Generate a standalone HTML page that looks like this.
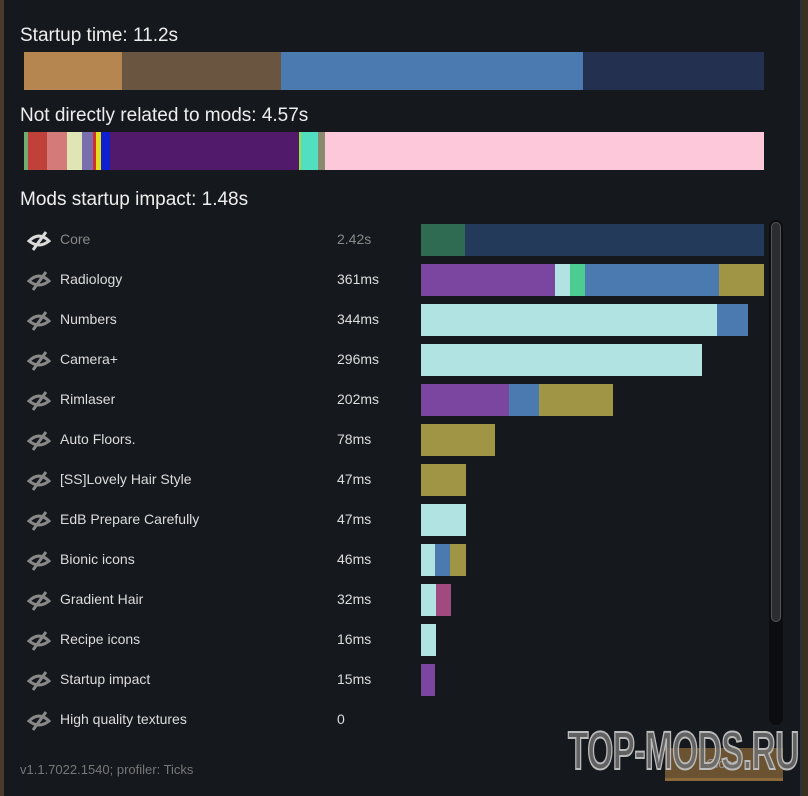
<!DOCTYPE html>
<html><head><meta charset="utf-8"><style>
*{margin:0;padding:0;box-sizing:border-box}
body{width:808px;height:796px;background:#15181d;position:relative;overflow:hidden;font-family:"Liberation Sans",sans-serif;color:#e6e6e6}
.a{position:absolute}
.h{font-size:19px;color:#eee;left:20px}
.s{position:absolute;top:0;height:100%}
.bar{position:absolute;height:38px;left:24px;width:740px}
.row{position:absolute;left:0;width:808px;height:40px}
.nm{position:absolute;left:60px;top:7px;font-size:14px;color:#ddd}
.v{position:absolute;left:337px;top:7px;font-size:14px;color:#ddd}
.rb{position:absolute;left:421px;top:0;height:32px}
.ic{position:absolute;left:27px;top:4px}
</style></head><body>
<div class="a" style="left:0;top:0;width:4px;height:796px;background:#4a3a2c"></div>
<div class="a" style="left:800px;top:0;width:2px;height:796px;background:#2c3038"></div>
<div class="a" style="left:802px;top:0;width:6px;height:796px;background:#3a3020"></div>
<div class="a h" style="top:25px">Startup time: 11.2s</div>
<div class="bar" style="top:52px">
<div class="s" style="left:0;width:98px;background:#b5864f"></div>
<div class="s" style="left:98px;width:159px;background:#6a5540"></div>
<div class="s" style="left:257px;width:302px;background:#4a7aaf"></div>
<div class="s" style="left:559px;width:181px;background:#233050"></div>
</div>
<div class="a h" style="top:105px">Not directly related to mods: 4.57s</div>
<div class="bar" style="top:132px">
<div class="s" style="left:0;width:4px;background:#6fae6f"></div>
<div class="s" style="left:4px;width:19px;background:#c0403a"></div>
<div class="s" style="left:23px;width:20px;background:#d47a78"></div>
<div class="s" style="left:43px;width:15px;background:#dfe5b5"></div>
<div class="s" style="left:58px;width:11px;background:#7a6fae"></div>
<div class="s" style="left:69px;width:3px;background:#d03030"></div>
<div class="s" style="left:72px;width:5px;background:#e0e020"></div>
<div class="s" style="left:77px;width:9px;background:#1020d0"></div>
<div class="s" style="left:86px;width:189px;background:#521a6a"></div>
<div class="s" style="left:275px;width:2px;background:#a0e040"></div>
<div class="s" style="left:277px;width:17px;background:#50e0c0"></div>
<div class="s" style="left:294px;width:7px;background:#8a8a70"></div>
<div class="s" style="left:301px;width:439px;background:#fcc8da"></div>
</div>
<div class="a h" style="top:189px">Mods startup impact: 1.48s</div>

<div class="a" style="left:769px;top:220px;width:14px;height:505px;background:#0c0d10;border-radius:7px"></div>
<div class="a" style="left:771px;top:222px;width:10px;height:400px;background:#2a2c30;border-radius:5px;border:1px solid #555"></div>

<svg width="0" height="0" style="position:absolute"><defs><g id="eye"><path d="M2 13 Q12 3 22 13 Q12 21 2 13Z" fill="none" stroke="#888" stroke-width="3"/><line x1="6" y1="22" x2="19" y2="4" stroke="#888" stroke-width="3"/></g></defs></svg>

<div class="row" style="top:224px"><svg class="ic" width="24" height="24"><use href="#eye" style="filter:brightness(1.6)"/></svg><div class="nm" style="color:#888">Core</div><div class="v" style="color:#888">2.42s</div>
<div class="rb" style="width:44px;background:#2e6b52"></div><div class="rb" style="left:465px;width:299px;background:#233a5a"></div></div>
<div class="row" style="top:264px"><svg class="ic" width="24" height="24"><use href="#eye"/></svg><div class="nm">Radiology</div><div class="v">361ms</div>
<div class="rb" style="width:134px;background:#7a46a0"></div><div class="rb" style="left:555px;width:15px;background:#b2e3e3"></div><div class="rb" style="left:570px;width:15px;background:#4ccc90"></div><div class="rb" style="left:585px;width:134px;background:#4a7aaf"></div><div class="rb" style="left:719px;width:45px;background:#9f9545"></div></div>
<div class="row" style="top:304px"><svg class="ic" width="24" height="24"><use href="#eye"/></svg><div class="nm">Numbers</div><div class="v">344ms</div>
<div class="rb" style="width:296px;background:#b2e3e3"></div><div class="rb" style="left:717px;width:31px;background:#4a7aaf"></div></div>
<div class="row" style="top:344px"><svg class="ic" width="24" height="24"><use href="#eye"/></svg><div class="nm">Camera+</div><div class="v">296ms</div>
<div class="rb" style="width:281px;background:#b2e3e3"></div></div>
<div class="row" style="top:384px"><svg class="ic" width="24" height="24"><use href="#eye"/></svg><div class="nm">Rimlaser</div><div class="v">202ms</div>
<div class="rb" style="width:88px;background:#7a46a0"></div><div class="rb" style="left:509px;width:30px;background:#4a7aaf"></div><div class="rb" style="left:539px;width:74px;background:#9f9545"></div></div>
<div class="row" style="top:424px"><svg class="ic" width="24" height="24"><use href="#eye"/></svg><div class="nm">Auto Floors.</div><div class="v">78ms</div>
<div class="rb" style="width:74px;background:#9f9545"></div></div>
<div class="row" style="top:464px"><svg class="ic" width="24" height="24"><use href="#eye"/></svg><div class="nm">[SS]Lovely Hair Style</div><div class="v">47ms</div>
<div class="rb" style="width:45px;background:#9f9545"></div></div>
<div class="row" style="top:504px"><svg class="ic" width="24" height="24"><use href="#eye"/></svg><div class="nm">EdB Prepare Carefully</div><div class="v">47ms</div>
<div class="rb" style="width:45px;background:#b2e3e3"></div></div>
<div class="row" style="top:544px"><svg class="ic" width="24" height="24"><use href="#eye"/></svg><div class="nm">Bionic icons</div><div class="v">46ms</div>
<div class="rb" style="width:14px;background:#b2e3e3"></div><div class="rb" style="left:435px;width:15px;background:#4a7aaf"></div><div class="rb" style="left:450px;width:16px;background:#9f9545"></div></div>
<div class="row" style="top:584px"><svg class="ic" width="24" height="24"><use href="#eye"/></svg><div class="nm">Gradient Hair</div><div class="v">32ms</div>
<div class="rb" style="width:15px;background:#b2e3e3"></div><div class="rb" style="left:436px;width:15px;background:#a04a80"></div></div>
<div class="row" style="top:624px"><svg class="ic" width="24" height="24"><use href="#eye"/></svg><div class="nm">Recipe icons</div><div class="v">16ms</div>
<div class="rb" style="width:15px;background:#b2e3e3"></div></div>
<div class="row" style="top:664px"><svg class="ic" width="24" height="24"><use href="#eye"/></svg><div class="nm">Startup impact</div><div class="v">15ms</div>
<div class="rb" style="width:14px;background:#7a46a0"></div></div>
<div class="row" style="top:704px"><svg class="ic" width="24" height="24"><use href="#eye"/></svg><div class="nm">High quality textures</div><div class="v">0</div></div>

<div class="a" style="left:20px;top:762px;font-size:13px;color:#777">v1.1.7022.1540; profiler: Ticks</div>
<div class="a" style="left:665px;top:748px;width:118px;height:33px;background:#6b5230;border-bottom:3px solid #8a6a3a"></div>
<div class="a" style="left:706px;top:756px;font-size:13px;color:#999">Close</div>
<div class="a" style="left:568px;top:720px;font-size:54px;font-weight:bold;color:rgba(110,110,110,0.85);-webkit-text-stroke:2px #bbb;transform:scaleX(0.62);transform-origin:left top;letter-spacing:-1px;white-space:nowrap">TOP-MODS.RU</div>
</body></html>
